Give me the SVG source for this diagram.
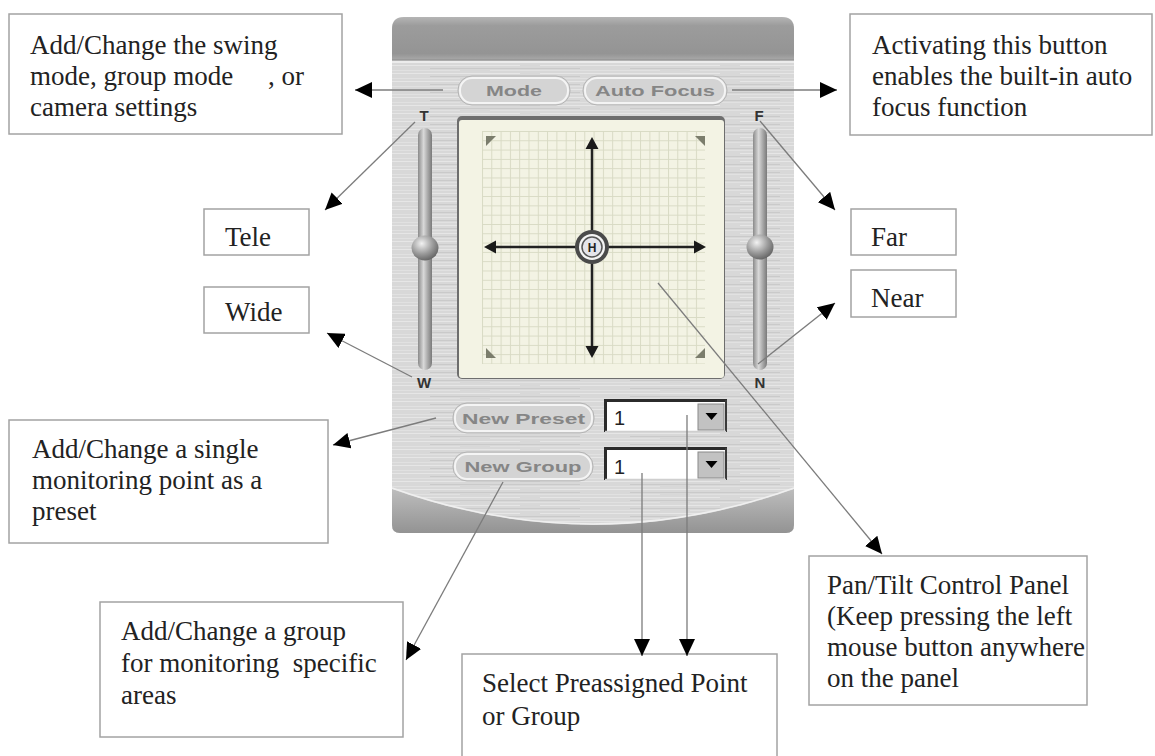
<svg xmlns="http://www.w3.org/2000/svg" width="1155" height="756" viewBox="0 0 1155 756">
<style>
.box{fill:#fff;stroke:#a3a3a3;stroke-width:1.5}
.lbl{font-family:"Liberation Serif","Times New Roman",serif;font-size:27px;fill:#222}
.conn{stroke:#7c7c7c;stroke-width:1.3;fill:none;marker-end:url(#ah)}
.btnO{fill:#d4d4d4;stroke:#b4b4b4;stroke-width:1}
.btnI{fill:none;stroke:#f4f4f4;stroke-width:2}
.btxt{font-family:"Liberation Sans",Arial,sans-serif;font-weight:bold;font-size:15px;fill:#868686;text-anchor:middle}
.sl{font-family:"Liberation Sans",Arial,sans-serif;font-weight:bold;font-size:15px;fill:#333;text-anchor:middle}
.dd{font-family:"Liberation Sans",Arial,sans-serif;font-size:20px;fill:#222}
.xl{stroke:#222;stroke-width:2.5}
.cm{fill:#7b7d6c}
</style>
<defs>
<marker id="ah" markerUnits="userSpaceOnUse" markerWidth="18" markerHeight="16" refX="17" refY="8" orient="auto"><path d="M0,0 L17,8 L0,16 Z" fill="#000"/></marker>
<pattern id="brush" patternUnits="userSpaceOnUse" width="200" height="8">
<rect width="200" height="8" fill="#d8d8d8"/>
<path d="M0,1.5 H120 M140,1.5 H200" stroke="#e6e6e6" stroke-width="1"/>
<path d="M30,4.5 H180" stroke="#cacaca" stroke-width="1"/>
<path d="M0,6.5 H60 M90,6.5 H200" stroke="#e1e1e1" stroke-width="1"/>
</pattern>
<linearGradient id="hdr" x1="0" y1="0" x2="0" y2="1">
<stop offset="0" stop-color="#b5b5b5"/><stop offset="0.2" stop-color="#9c9c9c"/><stop offset="0.85" stop-color="#949494"/><stop offset="1" stop-color="#a9a9a9"/>
</linearGradient>
<linearGradient id="bot" x1="0" y1="0" x2="0" y2="1">
<stop offset="0" stop-color="#bdbdbd"/><stop offset="1" stop-color="#939393"/>
</linearGradient>
<linearGradient id="rail" x1="0" y1="0" x2="1" y2="0">
<stop offset="0" stop-color="#8a8a8a"/><stop offset="0.4" stop-color="#d9d9d9"/><stop offset="0.7" stop-color="#a8a8a8"/><stop offset="1" stop-color="#7a7a7a"/>
</linearGradient>
<radialGradient id="knob" cx="0.38" cy="0.32" r="0.7">
<stop offset="0" stop-color="#f2f2f2"/><stop offset="0.6" stop-color="#9a9a9a"/><stop offset="1" stop-color="#666"/>
</radialGradient>
<pattern id="grid" patternUnits="userSpaceOnUse" x="482" y="131" width="9.3" height="9.3">
<path d="M0,0.5 H9.3 M0.5,0 V9.3" stroke="#d8dac4" stroke-width="1" fill="none"/>
</pattern>
</defs>

<rect width="1155" height="756" fill="#fff"/>

<g id="panel">
<path d="M404,17 H782 Q794,17 794,29 V525 Q794,533 786,533 H400 Q392,533 392,525 V29 Q392,17 404,17 Z" fill="url(#brush)"/>
<path d="M404,17 H782 Q794,17 794,29 V60 H392 V29 Q392,17 404,17 Z" fill="url(#hdr)"/>
<path d="M392,60 H794" stroke="#8a8a8a" stroke-width="1"/>
<path d="M392,62 H794" stroke="#ececec" stroke-width="2"/>
<path d="M392,489 Q593,561 794,489 V525 Q794,533 786,533 H400 Q392,533 392,525 Z" fill="url(#bot)"/>
<path d="M392,488 Q593,560 794,488" stroke="#efefef" stroke-width="1.5" fill="none"/>
</g>

<g id="display">
<rect x="457" y="116" width="268" height="263" rx="5" fill="#6e6e6e"/>
<rect x="459" y="120" width="265" height="258" rx="3" fill="#f3f3e4"/>
<rect x="482" y="131" width="223" height="233" fill="url(#grid)"/>
<path class="cm" d="M486,136 L496,136 L486,146 Z"/>
<path class="cm" d="M705,136 L695,136 L705,146 Z"/>
<path class="cm" d="M486,358 L486,348 L496,358 Z"/>
<path class="cm" d="M705,358 L705,348 L695,358 Z"/>
<path class="xl" d="M592,144 V350 M492,247 H698"/>
<path d="M592,137 L585.5,149 L598.5,149 Z M592,358 L585.5,346 L598.5,346 Z M484,247 L496,240.5 L496,253.5 Z M706,247 L694,240.5 L694,253.5 Z" fill="#1a1a1a"/>
<circle cx="592" cy="247" r="17" fill="#4a4a4a"/>
<circle cx="592" cy="247" r="13" fill="#f4f4f4"/>
<circle cx="592" cy="247" r="10" fill="#e4e4ea" stroke="#555" stroke-width="1.5"/>
<text x="592" y="251.5" font-family="Liberation Sans, Arial, sans-serif" font-weight="bold" font-size="12" fill="#222" text-anchor="middle">H</text>
</g>

<g id="zoom-slider">
<text class="sl" x="424" y="121">T</text>
<rect x="418" y="128" width="14" height="242" rx="7" fill="url(#rail)"/>
<ellipse cx="425" cy="248" rx="13.5" ry="12.5" fill="url(#knob)"/>
<text class="sl" x="424" y="388">W</text>
</g>

<g id="focus-slider">
<text class="sl" x="759" y="121">F</text>
<rect x="753" y="128" width="14" height="242" rx="7" fill="url(#rail)"/>
<ellipse cx="760" cy="247" rx="13.5" ry="12.5" fill="url(#knob)"/>
<text class="sl" x="760" y="388">N</text>
</g>

<g id="btn-mode">
<rect class="btnO" x="458" y="76" width="112" height="29" rx="14"/>
<rect class="btnI" x="460" y="78" width="108" height="25" rx="12"/>
<text class="btxt" x="514" y="96" textLength="56" lengthAdjust="spacingAndGlyphs">Mode</text>
</g>
<g id="btn-autofocus">
<rect class="btnO" x="583" y="76" width="144" height="29" rx="14"/>
<rect class="btnI" x="585" y="78" width="140" height="25" rx="12"/>
<text class="btxt" x="655" y="96" textLength="120" lengthAdjust="spacingAndGlyphs">Auto Focus</text>
</g>
<g id="btn-newpreset">
<rect class="btnO" x="453" y="403" width="141" height="30" rx="14"/>
<rect class="btnI" x="455" y="405" width="137" height="26" rx="12"/>
<text class="btxt" x="523.5" y="423.5" textLength="123" lengthAdjust="spacingAndGlyphs">New Preset</text>
</g>
<g id="btn-newgroup">
<rect class="btnO" x="453" y="452" width="140" height="29" rx="14"/>
<rect class="btnI" x="455" y="454" width="136" height="25" rx="12"/>
<text class="btxt" x="523" y="472" textLength="117" lengthAdjust="spacingAndGlyphs">New Group</text>
</g>

<g id="dropdown-preset">
<rect x="604" y="399" width="123" height="33" fill="#fff"/>
<path d="M605.5,432 V400.5 H727" stroke="#2b2b2b" stroke-width="3" fill="none"/>
<path d="M726,400 V432" stroke="#3a3a3a" stroke-width="2"/>
<path d="M605,431.5 H726" stroke="#cfcfcf" stroke-width="1.5"/>
<rect x="698" y="404" width="26" height="26" fill="#c2c2c2" stroke="#8a8a8a" stroke-width="1"/>
<path d="M705.5,413 L717.5,413 L711.5,420 Z" fill="#000"/>
<text class="dd" x="614" y="425">1</text>
</g>
<g id="dropdown-group">
<rect x="604" y="447" width="123" height="33" fill="#fff"/>
<path d="M605.5,480 V448.5 H727" stroke="#2b2b2b" stroke-width="3" fill="none"/>
<path d="M726,448 V480" stroke="#3a3a3a" stroke-width="2"/>
<path d="M605,479.5 H726" stroke="#cfcfcf" stroke-width="1.5"/>
<rect x="698" y="452" width="26" height="26" fill="#c2c2c2" stroke="#8a8a8a" stroke-width="1"/>
<path d="M705.5,461 L717.5,461 L711.5,468 Z" fill="#000"/>
<text class="dd" x="614" y="474">1</text>
</g>

<g id="box-mode">
<rect class="box" x="9" y="14" width="333" height="120"/>
<text class="lbl" x="30" y="54">Add/Change the swing</text>
<text class="lbl" x="30" y="85">mode, group mode</text>
<text class="lbl" x="268" y="85">, or</text>
<text class="lbl" x="30" y="116">camera settings</text>
</g>
<g id="box-autofocus">
<rect class="box" x="850" y="14" width="302" height="121"/>
<text class="lbl" x="872" y="54">Activating this button</text>
<text class="lbl" x="872" y="85">enables the built-in auto</text>
<text class="lbl" x="872" y="116">focus function</text>
</g>
<g id="box-tele">
<rect class="box" x="204" y="209" width="105" height="46"/>
<text class="lbl" x="225" y="246">Tele</text>
</g>
<g id="box-wide">
<rect class="box" x="204" y="287" width="105" height="46"/>
<text class="lbl" x="225" y="321">Wide</text>
</g>
<g id="box-far">
<rect class="box" x="851" y="209" width="105" height="46"/>
<text class="lbl" x="871" y="246">Far</text>
</g>
<g id="box-near">
<rect class="box" x="851" y="270" width="105" height="47"/>
<text class="lbl" x="871" y="307">Near</text>
</g>
<g id="box-preset">
<rect class="box" x="9" y="420" width="319" height="123"/>
<text class="lbl" x="32" y="458">Add/Change a single</text>
<text class="lbl" x="32" y="489">monitoring point as a</text>
<text class="lbl" x="32" y="520">preset</text>
</g>
<g id="box-group">
<rect class="box" x="100" y="602" width="303" height="135"/>
<text class="lbl" x="121" y="640">Add/Change a group</text>
<text class="lbl" x="121" y="672" xml:space="preserve">for monitoring  specific</text>
<text class="lbl" x="121" y="704">areas</text>
</g>
<g id="box-select">
<rect class="box" x="462" y="654" width="315" height="110"/>
<text class="lbl" x="482" y="692">Select Preassigned Point</text>
<text class="lbl" x="482" y="725">or Group</text>
</g>
<g id="box-pantilt">
<rect class="box" x="809" y="556" width="278" height="149"/>
<text class="lbl" x="827" y="594">Pan/Tilt Control Panel</text>
<text class="lbl" x="827" y="625">(Keep pressing the left</text>
<text class="lbl" x="827" y="656">mouse button anywhere</text>
<text class="lbl" x="827" y="687">on the panel</text>
</g>

<g id="connectors">
<path class="conn" d="M443,90 L355,90"/>
<path class="conn" d="M732,90 L837,90"/>
<path class="conn" d="M415,122 L325,210"/>
<path class="conn" d="M412,377 L327,333"/>
<path class="conn" d="M760,121 L835,210"/>
<path class="conn" d="M758,364 L835,303"/>
<path class="conn" d="M436,418 L333,445"/>
<path class="conn" d="M503,482 L406,660"/>
<path class="conn" d="M687,415 L687,656"/>
<path class="conn" d="M642,473 L642,656"/>
<path class="conn" d="M658,283 L882,554"/>
</g>
</svg>
